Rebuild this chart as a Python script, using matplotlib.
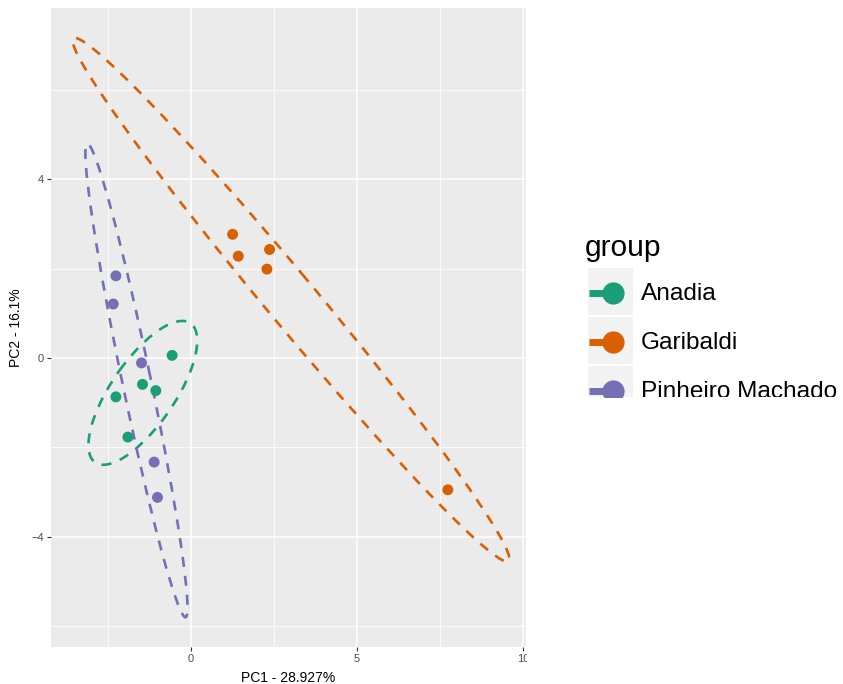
import numpy as np
import matplotlib
matplotlib.use("Agg")
import matplotlib.pyplot as plt
from matplotlib.patches import Ellipse, Rectangle

plt.rcParams['font.family'] = ['Liberation Sans', 'DejaVu Sans']

# PCA scores per group
groups = ["Anadia", "Garibaldi", "Pinheiro Machado"]
colors = ["#1B9E77", "#D95F02", "#7570B3"]

anadia_pc1 = [-0.56, -1.45, -1.05, -2.25, -1.89]
anadia_pc2 = [0.06, -0.59, -0.73, -0.87, -1.77]

garibaldi_pc1 = [1.26, 1.43, 2.37, 2.29, 7.73]
garibaldi_pc2 = [2.77, 2.28, 2.43, 1.99, -2.95]

pinheiro_pc1 = [-2.25, -2.33, -1.48, -1.10, -1.00]
pinheiro_pc2 = [1.84, 1.21, -0.11, -2.33, -3.12]

scores = [(anadia_pc1, anadia_pc2), (garibaldi_pc1, garibaldi_pc2), (pinheiro_pc1, pinheiro_pc2)]

xlabel = "PC1 - 28.927%"
ylabel = "PC2 - 16.1%"

level = 0.95
radius = np.sqrt(-2 * np.log(1 - level))  # chi-square quantile, 2 df

W, H = 843, 684
fig = plt.figure(figsize=(W / 100, H / 100), dpi=100)
ax = fig.add_axes([50.7 / W, 1 - 647 / H, (526 - 50.7) / W, (647 - 8.3) / H])
ax.set_facecolor("#EBEBEB")
for s in ax.spines.values():
    s.set_visible(False)

for (px, py), c in zip(scores, colors):
    px = np.asarray(px)
    py = np.asarray(py)
    cov = np.cov(px, py)
    vals, vecs = np.linalg.eigh(cov)
    ang = np.degrees(np.arctan2(vecs[1, 1], vecs[0, 1]))
    e = Ellipse((px.mean(), py.mean()), 2 * radius * np.sqrt(vals[1]), 2 * radius * np.sqrt(vals[0]),
                angle=ang, fill=False, edgecolor=c, lw=1.9, linestyle=(0, (3.8, 3.4)), zorder=3)
    ax.add_patch(e)
    ax.scatter(px, py, s=62, color=c, edgecolors="none", zorder=4)

ax.set_xlim(-4.21, 10.08)
ax.set_ylim(-6.47, 7.83)
ax.set_xticks([0, 5, 10])
ax.set_yticks([-4, 0, 4])
ax.set_xticks([-2.5, 2.5, 7.5], minor=True)
ax.set_yticks([-6, -2, 2, 6], minor=True)
ax.grid(True, which="major", color="white", lw=1.1)
ax.grid(True, which="minor", color="white", lw=0.55)
ax.set_axisbelow(True)
ax.tick_params(which="major", length=2.8, width=0.8, color="#333333", labelsize=8,
               labelcolor="#4D4D4D", pad=2)
ax.tick_params(which="minor", length=0)
ax.set_xlabel(xlabel, fontsize=10, labelpad=5)
ax.set_ylabel(ylabel, fontsize=10, labelpad=6)

# legend column: white strip right of the panel, contents clipped to a box
lg = fig.add_axes([526.5 / W, 0, (W - 526.5) / W, 1])
lg.set_xlim(526.5, W)
lg.set_ylim(H, 0)
lg.set_facecolor("white")
lg.set_xticks([])
lg.set_yticks([])
for s in lg.spines.values():
    s.set_visible(False)
clip = Rectangle((527, 222), W - 527, 397 - 222, transform=lg.transData)

lg.text(585, 248, "group", fontsize=21.5, va="center", ha="left", color="black")
for i, (g, c) in enumerate(zip(groups, colors)):
    yc = 293 + 49 * i
    key = lg.add_patch(Rectangle((588, yc - 25), 45, 47, facecolor="#F2F2F2", edgecolor="none"))
    stub, = lg.plot([589, 610], [yc, yc], color=c, lw=5, solid_capstyle="butt")
    dot, = lg.plot([613], [yc], "o", color=c, markersize=16, markeredgewidth=0)
    txt = lg.text(641, yc + 1, g, fontsize=17.6, va="center", ha="left", color="black")
    for art in (key, stub, dot, txt):
        art.set_clip_path(clip)
        art.set_clip_on(True)

fig.savefig("out.png", dpi=100, facecolor="white")
